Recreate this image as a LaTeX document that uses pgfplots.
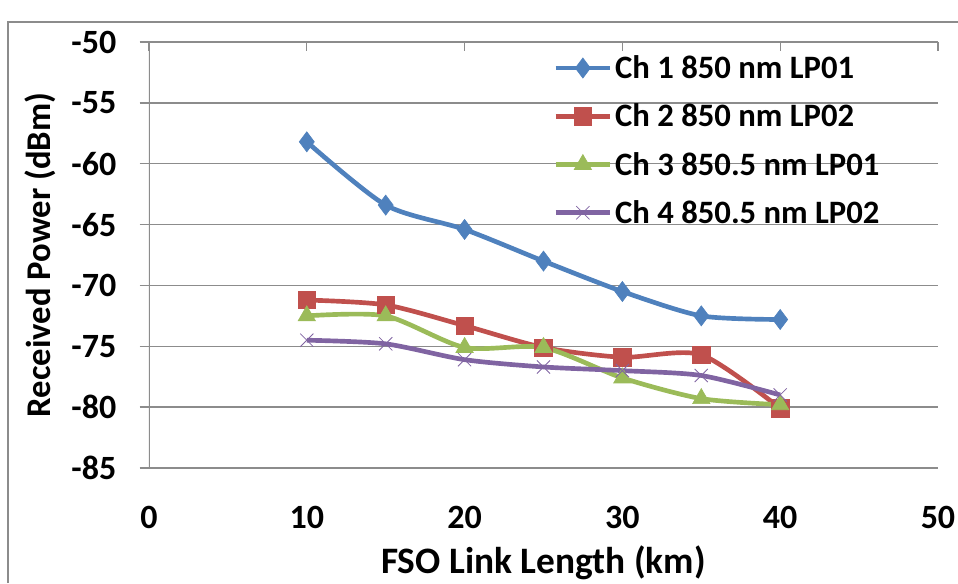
\documentclass[border=0pt]{standalone}
\usepackage{pgfplots}
\pgfplotsset{compat=1.18}
\usepackage{fontspec}
\setmainfont{Carlito}
\definecolor{c1}{HTML}{4F81BD}
\definecolor{c2}{HTML}{C0504D}
\definecolor{c3}{HTML}{9BBB59}
\definecolor{c4}{HTML}{8064A2}
\definecolor{gr}{HTML}{8C8C8C}
\begin{document}
\begin{tikzpicture}
\useasboundingbox (-111.75pt,-86.25pt) rectangle (606.75pt,351pt);
\draw[gr,line width=1pt] (-105.75pt,-86.25pt) -- (-105.75pt,334.5pt) -- (606.75pt,334.5pt);
\begin{axis}[
  at={(0pt,0pt)}, anchor=south west,
  width=591.75pt, height=319.5pt, scale only axis,
  xmin=0, xmax=50, ymin=-85, ymax=-50,
  xtick={0,10,...,50}, ytick={-85,-80,...,-50},
  xtick pos=upper, xticklabel pos=lower,
  ytick pos=left, ytick align=outside,
  major tick length=7pt,
  every tick/.style={gr,line width=1pt},
  axis line style={draw=none},
  ymajorgrids, grid style={gr,line width=1pt},
  /pgf/number format/assume math mode=true,
  ticklabel style={font=\fontsize{25.5}{29}\selectfont\bfseries},
  xticklabel style={yshift=-25pt},
  yticklabel style={xshift=-14pt},
  xlabel={FSO Link Length (km)},
  ylabel={Received Power (dBm)},
  xlabel style={font=\fontsize{28}{32}\selectfont\bfseries,yshift=-6pt},
  ylabel style={font=\fontsize{26}{30}\selectfont\bfseries,yshift=5pt},
  legend style={at={(0.512,0.975)},anchor=north west,draw=none,fill=none,
    font=\fontsize{24.5}{28}\selectfont\bfseries,row sep=13.5pt,inner sep=0pt},
  legend cell align=left,
  legend image code/.code={\draw[mark repeat=2,mark phase=2,#1] plot coordinates {(0cm,0cm)(0.72cm,0cm)(1.44cm,0cm)};},
  every axis plot/.append style={line width=3.5pt, smooth, tension=0.45},
]
\draw[gr,line width=1pt] (rel axis cs:0,0) -- (rel axis cs:0,1);
\addplot[c1, mark=diamond*, mark size=7.5pt, mark options={solid,line width=0.5pt}] coordinates {
(10,-58.2) (15,-63.4) (20,-65.4) (25,-68.0) (30,-70.5) (35,-72.5) (40,-72.8)};
\addlegendentry{Ch 1 850 nm LP01}
\addplot[c2, mark=square*, mark size=6.5pt, mark options={solid,line width=0.5pt}] coordinates {
(10,-71.2) (15,-71.6) (20,-73.3) (25,-75.1) (30,-75.9) (35,-75.7) (40,-80.1)};
\addlegendentry{Ch 2 850 nm LP02}
\addplot[c3, mark=triangle*, mark size=7.5pt, mark options={solid,line width=0.5pt}] coordinates {
(10,-72.5) (15,-72.5) (20,-75.1) (25,-75.1) (30,-77.6) (35,-79.3) (40,-79.8)};
\addlegendentry{Ch 3 850.5 nm LP01}
\addplot[c4, mark=x, mark size=7pt, mark options={solid,line width=0.6pt}] coordinates {
(10,-74.5) (15,-74.8) (20,-76.1) (25,-76.7) (30,-77.0) (35,-77.4) (40,-79.0)};
\addlegendentry{Ch 4 850.5 nm LP02}
\end{axis}
\end{tikzpicture}
\end{document}
